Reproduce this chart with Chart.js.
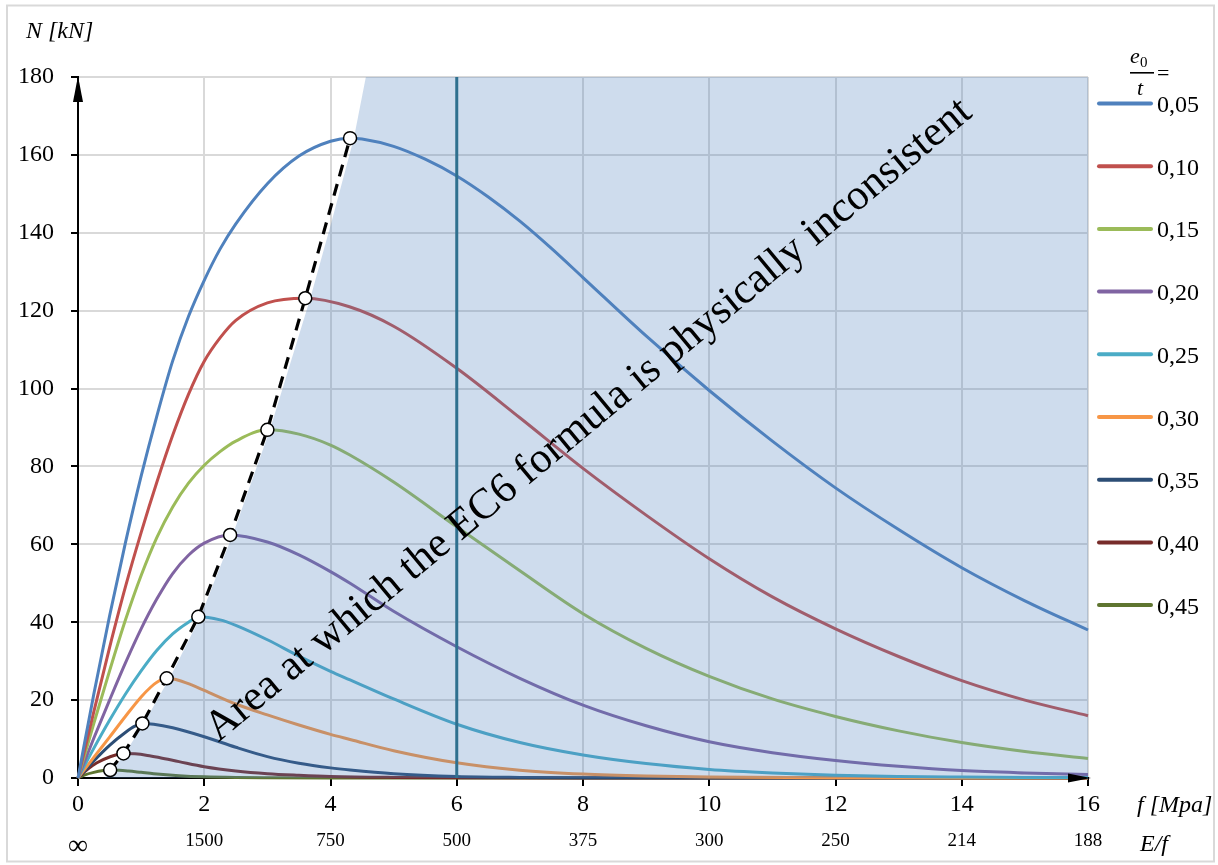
<!DOCTYPE html>
<html lang="en">
<head>
<meta charset="UTF-8">
<title>N - f curves, EC6</title>
<style>
    body { margin: 0; background: #ffffff; }
    #chart-container { width: 1218px; height: 865px; }
</style>
<script src="https://cdn.jsdelivr.net/npm/chart.js"></script>
</head>
<body>
<div id="chart-container"><canvas id="nChart"></canvas></div>
<script>
// e0/t values shown in the legend
const ratioLabels = ["0,05", "0,10", "0,15", "0,20", "0,25", "0,30", "0,35", "0,40", "0,45"];
const lineColors = ["#4f81bd", "#c0504d", "#9bbb59", "#8064a2", "#4bacc6", "#f79646", "#2c4d75", "#772c2a", "#5f7530"];

// N [kN] against f [MPa]: [f, N]
const n005 = [[0,0],[0.25,21.5],[0.5,41.6],[0.75,60.3],[1,77.5],[1.25,93],[1.5,107.1],[1.75,118.5],[2,127.8],[2.25,135.8],[2.5,142.3],[3,152.6],[3.5,159.7],[4,163.5],[4.31,164.3],[4.5,164.1],[5,162.2],[5.5,158.9],[6,154.6],[6.5,149.2],[7,143],[7.5,136],[8,128.5],[9,113.5],[10,99.5],[11,86.5],[12,74.5],[13,63.8],[14,54],[15,45.5],[16,38]];
const n010 = [[0,0],[0.25,17],[0.5,33.5],[0.75,49],[1,63],[1.25,76],[1.5,88],[1.75,98.5],[2,107],[2.25,113],[2.5,117.5],[3,122],[3.6,123.2],[4.3,121],[5,116],[6,105.2],[7,92.5],[8,79.5],[9,67.5],[10,56.3],[11,46.5],[12,38.3],[13,31.2],[14,25],[15,20],[16,16]];
const n015 = [[0,0],[0.25,14],[0.5,27.5],[0.75,40.5],[1,52],[1.25,61.8],[1.5,69.6],[1.75,75.7],[2,80.3],[2.25,83.8],[2.5,86.5],[3,89.4],[3.5,88.3],[4,85.5],[4.3,83],[5,76],[6,64.5],[7,53.2],[8,42.2],[9,33.3],[10,26.1],[11,20.3],[12,15.8],[13,12.1],[14,9.1],[15,6.8],[16,5]];
const n020 = [[0,0],[0.25,10.2],[0.5,20],[0.75,29.5],[1,38.3],[1.25,46],[1.5,52.5],[1.75,57.2],[2,60.3],[2.41,62.4],[3,60.6],[3.5,57.3],[4,53],[4.31,50],[5,42.8],[6,33.7],[7,25.6],[8,18.7],[9,13.4],[10,9.3],[11,6.5],[12,4.5],[13,3],[14,1.9],[15,1.3],[16,0.9]];
const n025 = [[0,0],[0.25,7.6],[0.5,14.8],[0.75,21.5],[1,27.5],[1.25,32.8],[1.5,37],[1.75,40],[1.906,41.4],[2.25,40.6],[2.5,39.2],[3,35.5],[3.5,31.3],[4,27.4],[4.31,25.2],[5,20.3],[6,13.8],[7,9.1],[8,5.9],[9,3.7],[10,2.2],[11,1.3],[12,0.7],[13,0.4],[14,0.25],[15,0.15],[16,0.1]];
const n030 = [[0,0],[0.25,5.3],[0.5,10.5],[0.75,15.8],[1,20.8],[1.15,23.3],[1.25,24.6],[1.405,25.6],[1.55,25.3],[1.8,23.9],[2,22.5],[2.5,19],[3,16.2],[3.5,13.6],[4,11.2],[4.31,9.9],[5,7],[6,3.9],[7,2],[8,1],[9,0.5],[10,0.25],[12,0.06],[14,0],[16,0]];
const n035 = [[0,0],[0.25,4.4],[0.5,8.4],[0.75,11.7],[0.9,13.3],[1.02,14],[1.2,13.8],[1.5,12.9],[2,10.6],[2.5,7.9],[3,5.5],[3.5,3.8],[4,2.6],[4.31,2.05],[5,1.1],[6,0.4],[7,0.15],[8,0.05],[10,0],[12,0],[16,0]];
const n040 = [[0,0],[0.15,2.2],[0.3,3.9],[0.5,5.4],[0.72,6.3],[0.9,6.2],[1.1,5.8],[1.3,5.2],[1.6,4.2],[2,2.9],[2.5,1.8],[3,1.1],[3.5,0.7],[4,0.4],[5,0.15],[6,0.05],[8,0],[12,0],[16,0]];
const n045 = [[0,0],[0.1,0.75],[0.25,1.45],[0.4,1.9],[0.51,2.05],[0.65,2],[0.8,1.8],[1,1.45],[1.2,1.1],[1.6,0.6],[2,0.3],[2.5,0.12],[3,0.05],[4,0],[8,0],[12,0],[16,0]];
const curves = [n005, n010, n015, n020, n025, n030, n035, n040, n045];

// maxima of each curve (joined by the dashed line)
const peakPoints = [[0.51,2.05],[0.72,6.3],[1.02,14],[1.405,25.6],[1.906,41.4],[2.41,62.4],[3.0,89.4],[3.6,123.2],[4.31,164.3]];
// left edge of the shaded "inconsistent" area
const shadeEdge = [[0.42,0],[0.55,2],[0.75,6.4],[1.06,14.5],[1.48,26.5],[1.94,41.4],[2.45,62.4],[3.04,89.4],[3.68,123.2],[4.02,143],[4.37,164.3],[4.56,180],[16,180]];
const limitF = 6;

// second row under the f axis: E/f
const efLabels = ["\u221e", "1500", "750", "500", "375", "300", "250", "214", "188"];

const serif = "'Liberation Serif', 'Times New Roman', serif";
const toXY = arr => arr.map(p => ({ x: p[0], y: p[1] }));

const datasets = [];

curves.forEach((c, i) => {
    datasets.push({
        label: ratioLabels[i],
        data: toXY(c),
        showLine: true,
        borderColor: lineColors[i],
        borderWidth: 3,
        pointRadius: 0,
        cubicInterpolationMode: "monotone",
        clip: 3,
        order: 3
    });
});

// shaded area, drawn over the curves
datasets.push({
    label: "area",
    data: toXY(shadeEdge),
    showLine: true,
    borderWidth: 0,
    borderColor: "rgba(0,0,0,0)",
    backgroundColor: "rgba(79, 129, 189, 0.28)",
    fill: "start",
    pointRadius: 0,
    tension: 0,
    order: 1
});

// vertical line at f = 6
datasets.push({
    label: "limit",
    data: [{ x: limitF, y: 0 }, { x: limitF, y: 180 }],
    showLine: true,
    borderColor: "#2f708f",
    borderWidth: 3,
    pointRadius: 0,
    order: 0
});

// dashed line through the maxima
datasets.push({
    label: "peaks",
    data: toXY(peakPoints),
    showLine: true,
    borderColor: "#000000",
    borderWidth: 3.2,
    borderDash: [12, 8],
    tension: 0,
    pointRadius: 6.5,
    pointBackgroundColor: "#ffffff",
    pointBorderColor: "#000000",
    pointBorderWidth: 1.5,
    clip: 10,
    order: -1
});

// frame, arrows, axis names, rotated note and legend
const decorations = {
    id: "decorations",
    beforeDraw(chart) {
        const ctx = chart.ctx;
        ctx.save();
        ctx.strokeStyle = "#d9d9d9";
        ctx.lineWidth = 2;
        ctx.strokeRect(7, 5.5, 1207, 856);
        ctx.restore();
    },
    afterDatasetsDraw(chart) {
        const ctx = chart.ctx;
        const a = chart.chartArea;
        ctx.save();

        // note across the shaded area
        ctx.save();
        ctx.translate(596, 429);
        ctx.rotate(-39.7 * Math.PI / 180);
        ctx.font = "43px " + serif;
        ctx.fillStyle = "#000";
        ctx.textAlign = "center";
        ctx.textBaseline = "alphabetic";
        ctx.fillText("Area at which the EC6 formula is physically inconsistent", 0, 0);
        ctx.restore();

        // axis arrows
        ctx.fillStyle = "#000";
        ctx.beginPath();
        ctx.moveTo(a.left, a.top - 1);
        ctx.lineTo(a.left - 5, a.top + 25);
        ctx.lineTo(a.left + 5, a.top + 25);
        ctx.closePath();
        ctx.fill();
        ctx.beginPath();
        ctx.moveTo(a.right + 3, a.bottom);
        ctx.lineTo(a.right - 20, a.bottom - 4.5);
        ctx.lineTo(a.right - 20, a.bottom + 4.5);
        ctx.closePath();
        ctx.fill();

        // axis names
        ctx.textAlign = "left";
        ctx.textBaseline = "alphabetic";
        ctx.font = "italic 24px " + serif;
        ctx.fillText("N [kN]", 26, 38);
        ctx.fillText("f [Mpa]", 1137, 812);
        ctx.fillText("E/f", 1140, 851);

        // legend title e0/t =
        ctx.font = "italic 22px " + serif;
        ctx.fillText("e", 1130, 63);
        ctx.font = "15px " + serif;
        ctx.fillText("0", 1140, 67);
        ctx.fillRect(1130, 72, 24, 1.6);
        ctx.font = "italic 22px " + serif;
        ctx.fillText("t", 1137, 95);
        ctx.font = "22px " + serif;
        ctx.fillText("=", 1157, 80);

        // legend items
        ctx.lineCap = "round";
        ctx.lineWidth = 4;
        ctx.font = "24px " + serif;
        ratioLabels.forEach((lab, i) => {
            const y = 103.5 + i * 62.7;
            ctx.strokeStyle = lineColors[i];
            ctx.beginPath();
            ctx.moveTo(1099, y);
            ctx.lineTo(1151, y);
            ctx.stroke();
            ctx.fillText(lab, 1157, y + 8.5);
        });
        ctx.restore();
    }
};

new Chart(document.getElementById("nChart"), {
    type: "scatter",
    data: { datasets: datasets },
    options: {
        responsive: true,
        maintainAspectRatio: false,
        animation: false,
        events: [],
        layout: { padding: { top: 77, right: 130, left: 0, bottom: 0 } },
        plugins: {
            legend: { display: false },
            tooltip: { enabled: false }
        },
        scales: {
            x: {
                type: "linear",
                position: "bottom",
                min: 0,
                max: 16,
                weight: 0,
                afterFit(scale) { scale.height = 44; },
                ticks: { stepSize: 2, color: "#000", font: { family: serif, size: 24 }, padding: 4 },
                grid: { color: "#d9d9d9", lineWidth: 2, tickColor: "#000", tickLength: 8 },
                border: { color: "#000", width: 2 }
            },
            x2: {
                type: "linear",
                position: "bottom",
                min: 0,
                max: 16,
                weight: 1,
                afterFit(scale) { scale.height = 43; },
                ticks: {
                    stepSize: 2,
                    color: "#000",
                    padding: 0,
                    font: c => ({ family: serif, size: c.index === 0 ? 28 : 19 }),
                    callback: (v, i) => efLabels[i]
                },
                grid: { display: false },
                border: { display: false }
            },
            y: {
                type: "linear",
                min: 0,
                max: 180,
                afterFit(scale) { scale.width = 78; },
                ticks: { stepSize: 20, color: "#000", font: { family: serif, size: 24 }, padding: 17 },
                grid: { color: "#d9d9d9", lineWidth: 2, tickColor: "#000", tickLength: 7 },
                border: { color: "#000", width: 2 }
            }
        }
    },
    plugins: [decorations]
});
</script>
</body>
</html>
